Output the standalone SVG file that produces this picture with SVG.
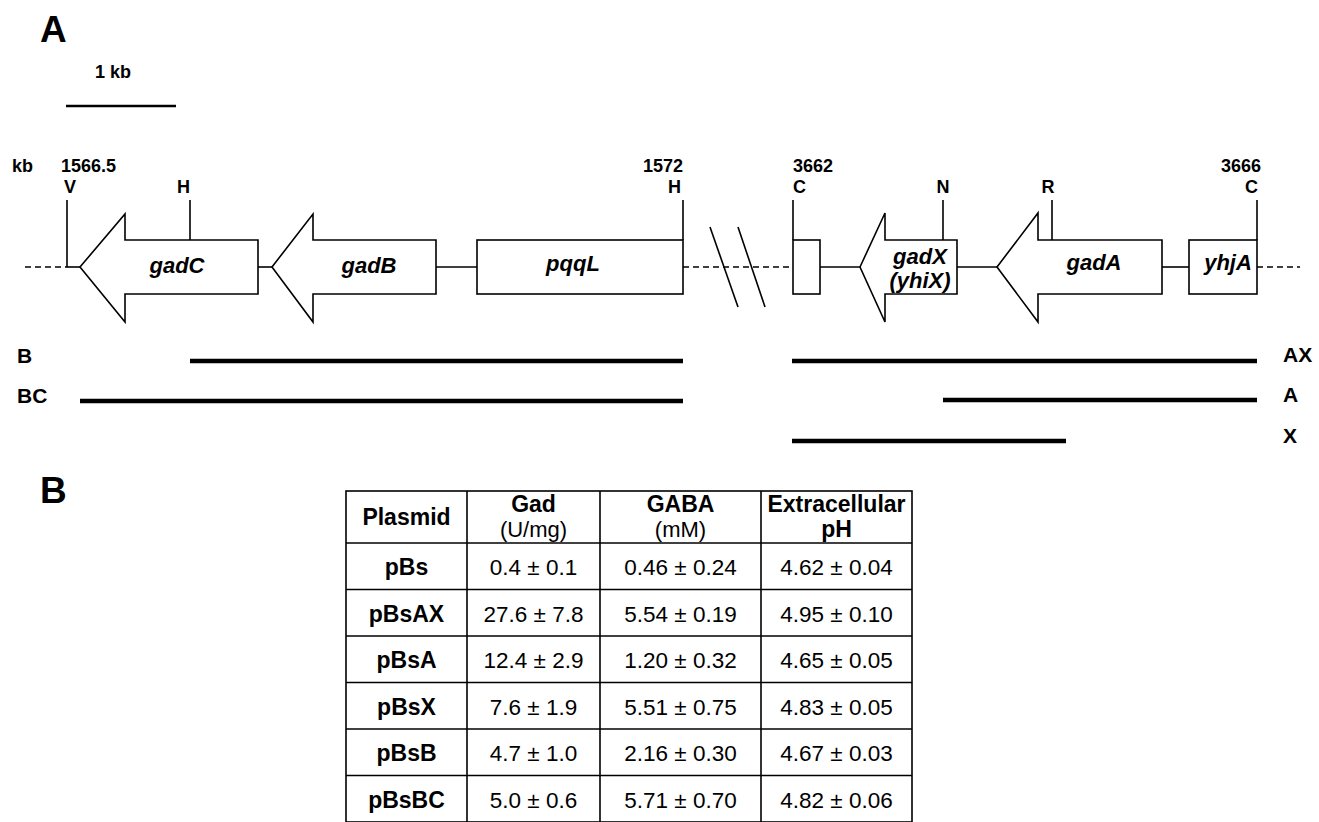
<svg xmlns="http://www.w3.org/2000/svg" width="1319" height="822" viewBox="0 0 1319 822">
<style>
text{font-family:"Liberation Sans",Arial,sans-serif;fill:#000}
.lbl{font-size:18px;font-weight:bold}
.big{font-size:37px;font-weight:bold}
.gene{font-size:22px;font-weight:bold;font-style:italic}
.row{font-size:21px;font-weight:bold}
.th{font-size:23px;font-weight:bold}
.tu{font-size:22px}
.td{font-size:22.5px}
.tdb{font-size:23px;font-weight:bold}
.shape{fill:#fff;stroke:#000;stroke-width:1.6}
.ln{stroke:#000;stroke-width:1.6;fill:none}
.dash{stroke:#000;stroke-width:1.6;fill:none;stroke-dasharray:6 4}
.bar{stroke:#000;stroke-width:4.5}
.grid{stroke:#000;stroke-width:1.6;fill:none}
</style>
<rect width="1319" height="822" fill="#fff"/>
<text class="big" x="40" y="42">A</text>
<text class="big" x="40" y="503">B</text>
<g id="scale">
<text class="lbl" x="95" y="78">1 kb</text>
<line x1="66" y1="106" x2="176" y2="106" stroke="#000" stroke-width="2.6"/>
</g>
<text class="lbl" x="12" y="172">kb</text>
<g id="connectors">
<line class="dash" x1="25" y1="267" x2="65" y2="267"/>
<line class="ln" x1="65" y1="267" x2="80" y2="267"/>
<line class="ln" x1="258" y1="267" x2="272" y2="267"/>
<line class="ln" x1="436" y1="267" x2="477" y2="267"/>
<line class="dash" x1="683" y1="267" x2="793" y2="267"/>
<line class="ln" x1="820" y1="267" x2="860" y2="267"/>
<line class="ln" x1="957" y1="267" x2="997" y2="267"/>
<line class="ln" x1="1162" y1="267" x2="1189" y2="267"/>
<line class="dash" x1="1257" y1="267" x2="1300" y2="267"/>
<line class="ln" x1="710" y1="227" x2="738" y2="307"/>
<line class="ln" x1="738" y1="227" x2="765" y2="307"/>
</g>
<g id="site-V">
<text class="lbl" x="61" y="172">1566.5</text>
<text class="lbl" x="64" y="193">V</text>
<line class="ln" x1="67" y1="200" x2="67" y2="267"/>
</g>
<g id="site-H1">
<text class="lbl" x="190" y="193" text-anchor="end">H</text>
<line class="ln" x1="190" y1="200" x2="190" y2="240"/>
</g>
<g id="site-H2">
<text class="lbl" x="683" y="172" text-anchor="end">1572</text>
<text class="lbl" x="681" y="193" text-anchor="end">H</text>
<line class="ln" x1="683" y1="200" x2="683" y2="240"/>
</g>
<g id="site-C1">
<text class="lbl" x="793" y="172">3662</text>
<text class="lbl" x="793" y="193">C</text>
<line class="ln" x1="793" y1="200" x2="793" y2="240"/>
</g>
<g id="site-N">
<text class="lbl" x="943" y="193" text-anchor="middle">N</text>
<line class="ln" x1="943" y1="200" x2="943" y2="240"/>
</g>
<g id="site-R">
<text class="lbl" x="1048" y="193" text-anchor="middle">R</text>
<line class="ln" x1="1052" y1="200" x2="1052" y2="240"/>
</g>
<g id="site-C2">
<text class="lbl" x="1261" y="172" text-anchor="end">3666</text>
<text class="lbl" x="1258" y="193" text-anchor="end">C</text>
<line class="ln" x1="1257" y1="200" x2="1257" y2="240"/>
</g>
<g id="gadC">
<path class="shape" d="M80,267 L125,214 L125,240 L258,240 L258,294 L125,294 L125,322 Z"/>
<text class="gene" x="177" y="273" text-anchor="middle">gadC</text>
</g>
<g id="gadB">
<path class="shape" d="M272,267 L313,214 L313,240 L436,240 L436,294 L313,294 L313,322 Z"/>
<text class="gene" x="369" y="273" text-anchor="middle">gadB</text>
</g>
<g id="pqqL">
<rect class="shape" x="477" y="240" width="206" height="54"/>
<text class="gene" x="573" y="271" text-anchor="middle">pqqL</text>
</g>
<g id="orf">
<rect class="shape" x="793" y="240" width="27" height="54"/>
</g>
<g id="gadX">
<path class="shape" d="M860,267 L885,213 L885,240 L957,240 L957,294 L885,294 L885,322 Z"/>
<text class="gene" x="920" y="264" text-anchor="middle">gadX</text>
<text class="gene" x="920" y="288" text-anchor="middle">(yhiX)</text>
</g>
<g id="gadA">
<path class="shape" d="M997,267 L1038,213 L1038,240 L1162,240 L1162,294 L1038,294 L1038,322 Z"/>
<text class="gene" x="1094" y="270" text-anchor="middle">gadA</text>
</g>
<g id="yhjA">
<rect class="shape" x="1189" y="240" width="68" height="54"/>
<text class="gene" x="1228" y="270" text-anchor="middle">yhjA</text>
</g>
<g id="fragment-B">
<text class="row" x="17" y="363">B</text>
<line class="bar" x1="190" y1="361" x2="683" y2="361"/>
</g>
<g id="fragment-BC">
<text class="row" x="17" y="403">BC</text>
<line class="bar" x1="80" y1="401" x2="683" y2="401"/>
</g>
<g id="fragment-AX">
<line class="bar" x1="792" y1="361" x2="1257" y2="361"/>
<text class="row" x="1283" y="362">AX</text>
</g>
<g id="fragment-A">
<line class="bar" x1="943" y1="400" x2="1257" y2="400"/>
<text class="row" x="1283" y="402">A</text>
</g>
<g id="fragment-X">
<line class="bar" x1="792" y1="441" x2="1066" y2="441"/>
<text class="row" x="1283" y="443">X</text>
</g>
<g id="table">
<rect class="grid" x="346" y="491" width="566" height="331"/>
<line class="grid" x1="467" y1="491" x2="467" y2="822"/>
<line class="grid" x1="600" y1="491" x2="600" y2="822"/>
<line class="grid" x1="761" y1="491" x2="761" y2="822"/>
<line class="grid" x1="346" y1="543" x2="912" y2="543"/>
<line class="grid" x1="346" y1="589.5" x2="912" y2="589.5"/>
<line class="grid" x1="346" y1="636" x2="912" y2="636"/>
<line class="grid" x1="346" y1="682.5" x2="912" y2="682.5"/>
<line class="grid" x1="346" y1="729" x2="912" y2="729"/>
<line class="grid" x1="346" y1="775.5" x2="912" y2="775.5"/>
<g text-anchor="middle">
<text class="th" x="406.5" y="525">Plasmid</text>
<text class="th" x="533.5" y="512">Gad</text>
<text class="tu" x="533.5" y="537">(U/mg)</text>
<text class="th" x="680.5" y="512">GABA</text>
<text class="tu" x="680.5" y="537">(mM)</text>
<text class="th" x="836.5" y="512">Extracellular</text>
<text class="th" x="836.5" y="537">pH</text>
<text class="tdb" x="406.5" y="575">pBs</text>
<text class="td" x="533.5" y="575">0.4 ± 0.1</text>
<text class="td" x="680.5" y="575">0.46 ± 0.24</text>
<text class="td" x="836.5" y="575">4.62 ± 0.04</text>
<text class="tdb" x="406.5" y="621.5">pBsAX</text>
<text class="td" x="533.5" y="621.5">27.6 ± 7.8</text>
<text class="td" x="680.5" y="621.5">5.54 ± 0.19</text>
<text class="td" x="836.5" y="621.5">4.95 ± 0.10</text>
<text class="tdb" x="406.5" y="668">pBsA</text>
<text class="td" x="533.5" y="668">12.4 ± 2.9</text>
<text class="td" x="680.5" y="668">1.20 ± 0.32</text>
<text class="td" x="836.5" y="668">4.65 ± 0.05</text>
<text class="tdb" x="406.5" y="714.5">pBsX</text>
<text class="td" x="533.5" y="714.5">7.6 ± 1.9</text>
<text class="td" x="680.5" y="714.5">5.51 ± 0.75</text>
<text class="td" x="836.5" y="714.5">4.83 ± 0.05</text>
<text class="tdb" x="406.5" y="761">pBsB</text>
<text class="td" x="533.5" y="761">4.7 ± 1.0</text>
<text class="td" x="680.5" y="761">2.16 ± 0.30</text>
<text class="td" x="836.5" y="761">4.67 ± 0.03</text>
<text class="tdb" x="406.5" y="807.5">pBsBC</text>
<text class="td" x="533.5" y="807.5">5.0 ± 0.6</text>
<text class="td" x="680.5" y="807.5">5.71 ± 0.70</text>
<text class="td" x="836.5" y="807.5">4.82 ± 0.06</text>
</g>
</g>
</svg>
